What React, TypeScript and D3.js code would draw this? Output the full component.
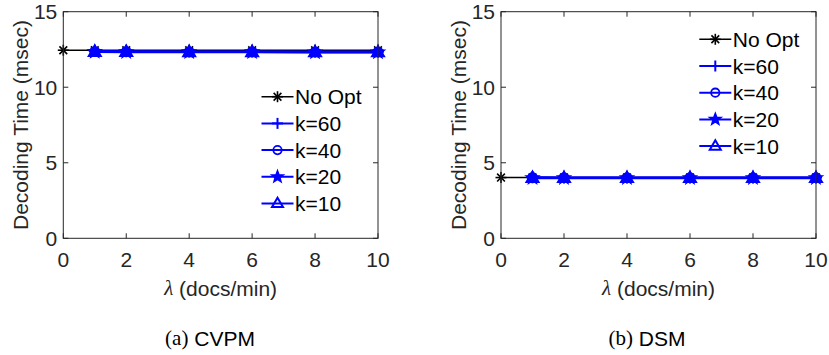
import React from "react";
import * as d3 from "d3";

const xTicks = [0, 2, 4, 6, 8, 10];
const yTicks = [0, 5, 10, 15];
const noOptX = [0, 1, 2, 4, 6, 8, 10];
const kX = [1, 2, 4, 6, 8, 10];

const cvpmNoOpt = [12.45, 12.45, 12.45, 12.45, 12.45, 12.45, 12.45];
const cvpmK60 = [12.4, 12.38, 12.37, 12.37, 12.36, 12.36];
const cvpmK40 = [12.37, 12.36, 12.35, 12.35, 12.34, 12.34];
const cvpmK20 = [12.35, 12.34, 12.33, 12.33, 12.32, 12.32];
const cvpmK10 = [12.33, 12.32, 12.31, 12.31, 12.3, 12.3];

const dsmNoOpt = [4.02, 4.02, 4.02, 4.02, 4.02, 4.02, 4.02];
const dsmK60 = [4.04, 4.03, 4.03, 4.03, 4.03, 4.03];
const dsmK40 = [4.02, 4.01, 4.01, 4.01, 4.01, 4.01];
const dsmK20 = [4.0, 4.0, 4.0, 4.0, 4.0, 4.0];
const dsmK10 = [3.98, 3.98, 3.98, 3.98, 3.98, 3.98];

const legendLabels = ["No Opt", "k=60", "k=40", "k=20", "k=10"];
const markerKinds = ["asterisk", "plus", "circle", "star", "triangle"];
const seriesColors = ["#000000", "#0000ff", "#0000ff", "#0000ff", "#0000ff"];

const FONT = "'Liberation Sans', Arial, Helvetica, sans-serif";
const AX = "#262626";
const FS = 21;

function Marker({ kind, x, y, color, filled, size }: any) {
  const s = size;
  if (kind === "asterisk") {
    const r = s / 2;
    const d = r * 0.707;
    return (
      <g stroke={color} strokeWidth={1.6}>
        <line x1={x - r} y1={y} x2={x + r} y2={y} />
        <line x1={x} y1={y - r} x2={x} y2={y + r} />
        <line x1={x - d} y1={y - d} x2={x + d} y2={y + d} />
        <line x1={x - d} y1={y + d} x2={x + d} y2={y - d} />
      </g>
    );
  }
  if (kind === "plus") {
    const r = s / 2;
    return (
      <g stroke={color} strokeWidth={2}>
        <line x1={x - r} y1={y} x2={x + r} y2={y} />
        <line x1={x} y1={y - r} x2={x} y2={y + r} />
      </g>
    );
  }
  if (kind === "circle") {
    return <circle cx={x} cy={y} r={s * 0.38} fill={filled ? color : "none"} stroke={color} strokeWidth={1.8} />;
  }
  if (kind === "star") {
    const pts: string[] = [];
    const R = s * 0.55;
    const r = R * 0.42;
    for (let i = 0; i < 10; i++) {
      const a = -Math.PI / 2 + (i * Math.PI) / 5;
      const rr = i % 2 === 0 ? R : r;
      pts.push(`${x + rr * Math.cos(a)},${y + rr * Math.sin(a)}`);
    }
    return <polygon points={pts.join(" ")} fill={color} stroke={color} strokeWidth={1.5} />;
  }
  const h = s * 0.85;
  const w = s * 0.5;
  return (
    <polygon
      points={`${x},${y - h * 0.62} ${x - w},${y + h * 0.38} ${x + w},${y + h * 0.38}`}
      fill={filled ? color : "none"}
      stroke={color}
      strokeWidth={2}
    />
  );
}

function Panel({ left, right, top, bottom, series, legendX, legendY, caption, captionX }: any) {
  const x = d3.scaleLinear().domain([0, 10]).range([left, right]);
  const y = d3.scaleLinear().domain([0, 15]).range([bottom, top]);
  const line = (xs: number[], ys: number[]) =>
    d3.line<number>().x((_, i) => x(xs[i])).y((v) => y(v))(ys) as string;
  const tl = 5;
  const spacing = 26.7;
  return (
    <g>
      {series.map((s: any, i: number) => (
        <path key={"l" + i} d={line(s.xs, s.ys)} fill="none" stroke={seriesColors[i]} strokeWidth={i === 0 ? 1.5 : 2} />
      ))}
      {series.map((s: any, i: number) =>
        s.ys.map((v: number, j: number) => (
          <Marker key={`m${i}-${j}`} kind={markerKinds[i]} x={x(s.xs[j])} y={y(v)} color={seriesColors[i]} filled={true} size={i === 0 ? 11 : 12} />
        ))
      )}
      <rect x={left} y={top} width={right - left} height={bottom - top} fill="none" stroke={AX} strokeWidth={1} />
      {xTicks.map((t) => (
        <g key={"xt" + t}>
          <line x1={x(t)} x2={x(t)} y1={bottom} y2={bottom - tl} stroke={AX} />
          <line x1={x(t)} x2={x(t)} y1={top} y2={top + tl} stroke={AX} />
          <text x={x(t)} y={259} textAnchor="middle" dominantBaseline="central" fontFamily={FONT} fontSize={FS} fill={AX}>
            {t}
          </text>
        </g>
      ))}
      {yTicks.map((t) => (
        <g key={"yt" + t}>
          <line x1={left} x2={left + tl} y1={y(t)} y2={y(t)} stroke={AX} />
          <line x1={right} x2={right - tl} y1={y(t)} y2={y(t)} stroke={AX} />
          <text x={left - 6} y={y(t)} textAnchor="end" dominantBaseline="central" fontFamily={FONT} fontSize={FS} fill={AX}>
            {t}
          </text>
        </g>
      ))}
      <text
        transform={`translate(${left - 43},${(top + bottom) / 2}) rotate(-90)`}
        textAnchor="middle"
        dominantBaseline="central"
        fontFamily={FONT}
        fontSize={FS}
        fill={AX}
      >
        Decoding Time (msec)
      </text>
      <text x={(left + right) / 2} y={288} textAnchor="middle" dominantBaseline="central" fontFamily={FONT} fontSize={FS} fill={AX}>
        <tspan fontFamily="'Liberation Serif', serif" fontStyle="italic">λ</tspan> (docs/min)
      </text>
      {legendLabels.map((lab, i) => {
        const ly = legendY + i * spacing;
        return (
          <g key={"lg" + i}>
            <line x1={legendX} x2={legendX + 32} y1={ly} y2={ly} stroke={seriesColors[i]} strokeWidth={i === 0 ? 1.5 : 2} />
            <Marker kind={markerKinds[i]} x={legendX + 16} y={ly} color={seriesColors[i]} filled={false} size={11} />
            <text x={legendX + 33.5} y={ly} dominantBaseline="central" fontFamily={FONT} fontSize={FS} fill="#000">
              {lab}
            </text>
          </g>
        );
      })}
      <text x={captionX} y={338} textAnchor="middle" dominantBaseline="central" fontSize={FS} fill="#000">
        <tspan fontFamily="'Liberation Serif', serif">{caption[0]}</tspan>
        <tspan fontFamily={FONT}> {caption[1]}</tspan>
      </text>
    </g>
  );
}

export default function App() {
  const top = 11.7;
  const bottom = 238.3;
  const left1 = [
    { xs: noOptX, ys: cvpmNoOpt },
    { xs: kX, ys: cvpmK60 },
    { xs: kX, ys: cvpmK40 },
    { xs: kX, ys: cvpmK20 },
    { xs: kX, ys: cvpmK10 },
  ];
  const right1 = [
    { xs: noOptX, ys: dsmNoOpt },
    { xs: kX, ys: dsmK60 },
    { xs: kX, ys: dsmK40 },
    { xs: kX, ys: dsmK20 },
    { xs: kX, ys: dsmK10 },
  ];
  return (
    <svg width={829} height={355} style={{ position: "absolute", left: 0, top: 0, background: "#fff" }}>
      <rect width={829} height={355} fill="#fff" />
      <Panel left={63.3} right={378} top={top} bottom={bottom} series={left1} legendX={261.5} legendY={96.7} caption={["(a)", "CVPM"]} captionX={210} />
      <Panel left={501} right={816} top={top} bottom={bottom} series={right1} legendX={699.3} legendY={39.3} caption={["(b)", "DSM"]} captionX={647} />
    </svg>
  );
}
